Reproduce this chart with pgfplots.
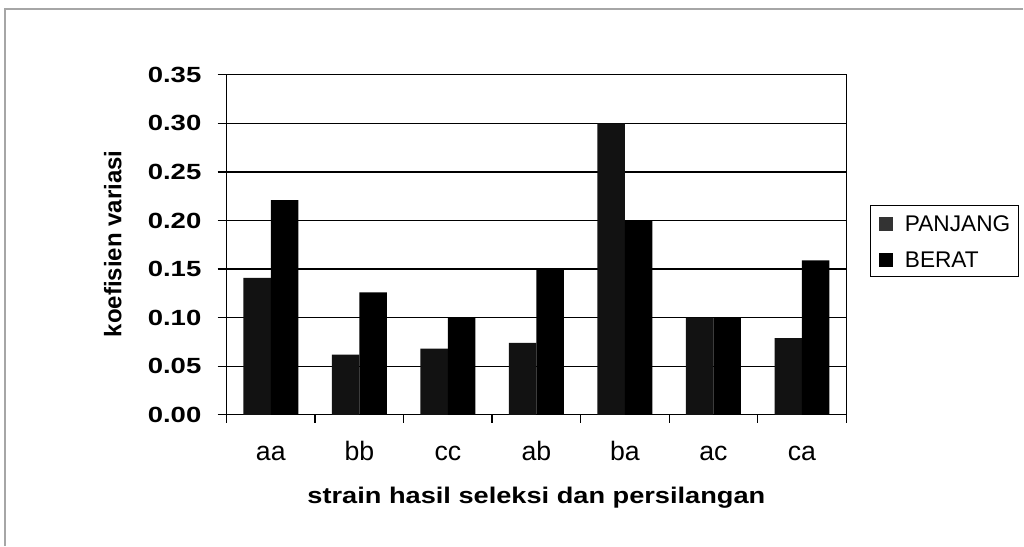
\documentclass[border=0pt]{standalone}
\usepackage{graphicx}
\usepackage{pgfplots}
\pgfplotsset{compat=1.18}
\usepackage{fontspec}
\setmainfont{Liberation Sans}
\begin{document}
\begin{tikzpicture}[x=1pt,y=1pt]
\path (0,0) rectangle (768,409.5);
\draw[gray!70, line width=0.8pt] (3.75,0) -- (3.75,402.75) -- (768,402.75);
\begin{axis}[
  at={(170pt,98.25pt)}, anchor=south west,
  scale only axis, width=465pt, height=255.2pt,
  xmin=-0.5, xmax=6.5, ymin=0, ymax=0.35,
  ytick={0,0.05,0.10,0.15,0.20,0.25,0.30,0.35},
  yticklabel={\scalebox{1.25}[1]{\pgfmathprintnumber[fixed,fixed zerofill,precision=2,assume math mode=true]{\tick}}},
  yticklabel style={font=\bfseries\fontsize{16.5}{19}\selectfont, anchor=east, inner sep=0pt, xshift=-12pt},
  xtick={0,1,2,3,4,5,6},
  xticklabels={aa,bb,cc,ab,ba,ac,ca},
  xticklabel style={font=\fontsize{20}{22}\selectfont, anchor=north, inner sep=0pt, text height=14pt, text depth=0pt, yshift=-13pt},
  minor xtick={-0.5,0.5,1.5,2.5,3.5,4.5,5.5,6.5},
  major x tick style={draw=none},
  tick pos=left,
  tick align=outside,
  major tick length=6.75pt, minor tick length=6pt,
  tick style={black, line width=1pt},
  axis line style={line width=1pt},
  ymajorgrids, grid style={black, line width=1pt},
  xlabel={\scalebox{1.2}[1]{strain hasil seleksi dan persilangan}},
  xlabel style={font=\bfseries\fontsize{17}{19}\selectfont, at={(axis description cs:0.5,-0.2615)}, anchor=base},
  ylabel={koefisien variasi},
  ylabel style={font=\bfseries\fontsize{18}{20}\selectfont, at={(axis description cs:-0.1834,0.503)}, anchor=center},
  legend style={at={(axis description cs:1.039,0.617)}, anchor=north west, draw=black, line width=0.8pt,
    font=\fontsize{17}{19}\selectfont, row sep=15pt, inner xsep=6pt, inner ysep=7pt,
    nodes={inner sep=0pt, text height=12.2pt, text depth=0pt},
    /tikz/every odd column/.append style={column sep=9pt}},
  legend cell align=left,
]
\addplot[ybar, bar width=0.31, bar shift=-0.155, fill=black!93, draw=none,
  legend image code/.code={\fill[black!80] (0pt,-6.1pt) rectangle (10.5pt,4.4pt);}]
  coordinates {(0,0.141)(1,0.062)(2,0.068)(3,0.074)(4,0.300)(5,0.100)(6,0.079)};
\addplot[ybar, bar width=0.31, bar shift=0.155, fill=black, draw=none,
  legend image code/.code={\fill[black] (0pt,-6.1pt) rectangle (10.5pt,4.4pt);}]
  coordinates {(0,0.221)(1,0.126)(2,0.100)(3,0.150)(4,0.200)(5,0.100)(6,0.159)};
\legend{PANJANG,BERAT}
\end{axis}
\end{tikzpicture}
\end{document}
